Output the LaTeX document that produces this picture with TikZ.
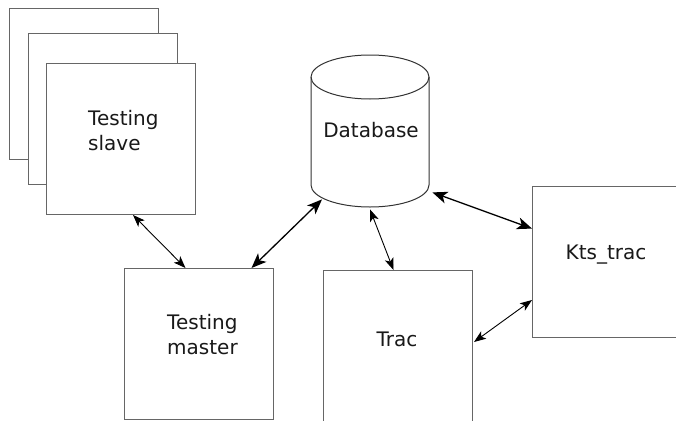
\documentclass[tikz,border=0pt]{standalone}
\usepackage{fontspec}
\setmainfont{DejaVu Sans}
\usetikzlibrary{arrows.meta,calc}
\begin{document}
\begin{tikzpicture}[x=1pt,y=-1pt,
  box/.style={draw=black!60,line width=1pt,fill=white,minimum width=149pt,minimum height=151pt,inner sep=0pt,anchor=north west},
  lbl/.style={font=\fontsize{20}{25}\selectfont,align=left,inner sep=0pt,text=black!90},
  thk/.style={{Stealth[length=15pt,width=12pt,inset=4pt]}-{Stealth[length=15pt,width=12pt,inset=4pt]},line width=1.3pt},
  thn/.style={{Stealth[length=12pt,width=9pt,inset=3pt]}-{Stealth[length=12pt,width=9pt,inset=3pt]},line width=0.9pt}]
\useasboundingbox (0,0) rectangle (676,420);
\clip (0,0) rectangle (676,420);
% testing slaves
\node[box] (s1) at (9,8) {};
\node[box] (s2) at (28,33) {};
\node[box] (s3) at (46,63) {};
\node[lbl,anchor=west] (tslave) at (88,131) {Testing\\slave};
% database
\node[minimum width=118pt,minimum height=152pt,inner sep=0pt,anchor=north west] (db) at (311,55) {};
\draw[black!80,line width=1pt,fill=white] (311,77) -- (311,185) arc[start angle=180,end angle=0,x radius=59,y radius=22] -- (429,77) arc[start angle=0,end angle=-180,x radius=59,y radius=22] -- cycle;
\draw[black!80,line width=1pt] (311,77) arc[start angle=180,end angle=0,x radius=59,y radius=22];
\node[lbl,anchor=center] (tdb) at (371,130) {Database};
% testing master
\node[box] (master) at (124,268) {};
\node[lbl,anchor=west] (tmaster) at (167,335) {Testing\\master};
% trac
\node[box] (trac) at (323,270) {};
\node[lbl,anchor=center] (ttrac) at (397,339) {Trac};
% kts_trac
\node[box] (kts) at (532,186) {};
\node[lbl,anchor=center] (tkts) at (606,255) {Kts\_trac};
% connectors
\draw[thn] ($(s3.south west)!0.58!(s3.south east)$) -- ($(master.north west)!0.41!(master.north east)$);
\draw[thk] ($(master.north west)!0.85!(master.north east)$) -- ($(db.south west)+(11,-8)$);
\draw[thn] ($(db.south west)+(59,2)$) -- ($(trac.north west)!0.47!(trac.north east)$);
\draw[thk] ($(db.south east)+(3,-15)$) -- ($(kts.north west)!0.28!(kts.south west)$);
\draw[thn] ($(trac.north east)+(1,72)$) -- ($(kts.north west)!0.75!(kts.south west)$);
\end{tikzpicture}
\end{document}
